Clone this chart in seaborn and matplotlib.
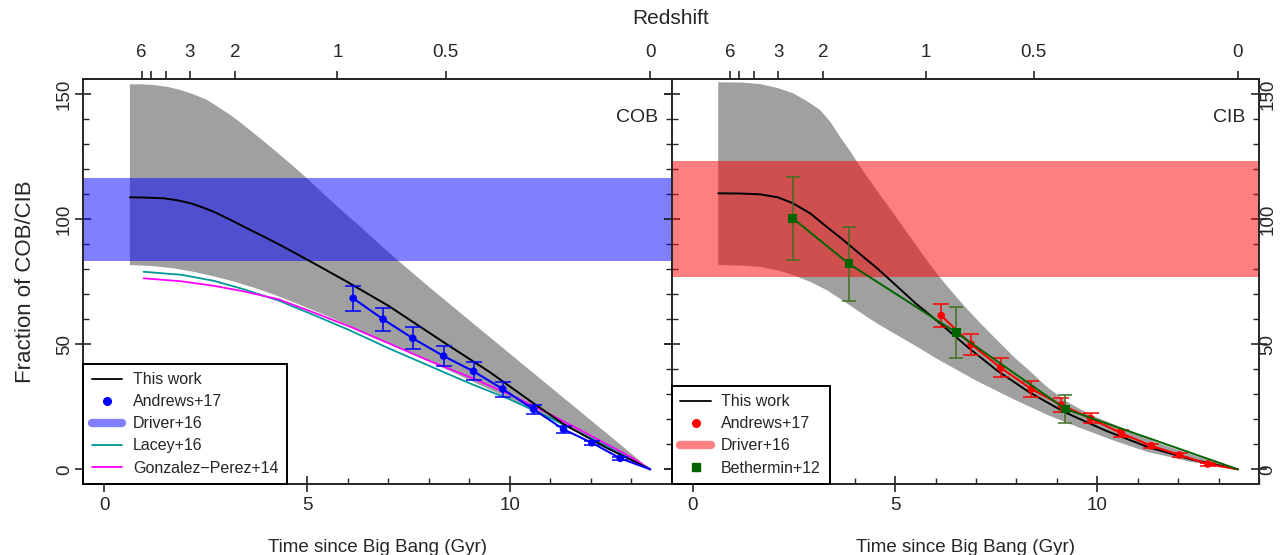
import numpy as np
import matplotlib
matplotlib.use('Agg')
import matplotlib.pyplot as plt
import seaborn as sns
from matplotlib.lines import Line2D
from matplotlib.ticker import MultipleLocator, NullLocator

# ---- data ----
T0 = 13.47

# COB panel
cob_band_up_t = [0.63, 0.9, 1.22, 1.55, 1.88, 2.2, 2.54, 2.8, 3.11, 3.4, 3.69, 4.0, 4.34, 4.67, 5.0,
                 5.33, 5.66, 6.0, 6.32, 6.81, 7.26, 8.08, 9.5, 11.0, 12.5, 13.47]
cob_band_up_y = [154, 154, 153.7, 153, 151.7, 150, 147.7, 145, 141.7, 138.2, 134.4, 130.3, 125.7, 121.1, 116.4,
                 111.4, 106.4, 101.5, 97, 89.7, 83.3, 72, 53, 33, 13, 0]
cob_band_lo_t = [0.63, 1.2, 1.7, 2.2, 2.7, 3.2, 3.7, 4.2, 4.7, 5.2, 5.7, 6.5, 7.5, 8.5, 9.5, 10.5, 11.5, 12.5, 13.47]
cob_band_lo_y = [81.7, 81.3, 80.4, 79.0, 77.2, 75.1, 72.6, 69.8, 66.6, 63.3, 59.9, 54.0, 47.0, 39.5, 32.0, 24.5,
                 16.5, 8.5, 0]

cob_this_t = [0.63, 1.0, 1.47, 1.8, 2.13, 2.4, 2.7, 3.1, 3.52, 3.93, 4.34, 4.75, 5.17, 5.58, 5.99, 7.0, 8.45,
              9.5, 10.59, 11.33, 12.4, 13.47]
cob_this_y = [108.8, 108.7, 108.4, 107.6, 106.4, 104.9, 103, 99.9, 96.4, 93.1, 89.7, 86.1, 82.4, 78.7, 75, 65.5,
              50, 39, 26.4, 18.1, 8.5, 0]

andrews_t = [6.14, 6.88, 7.61, 8.37, 9.11, 9.83, 10.59, 11.33, 12.03, 12.73]
cob_andrews_y = [68.4, 60.0, 52.4, 45.3, 39.2, 32.1, 24.0, 16.0, 10.6, 4.4]
cob_andrews_err = [4.9, 4.65, 4.4, 4.0, 3.6, 3.0, 1.8, 1.3, 0.9, 0.7]

cob_driver = (83.5, 116.6)

sam_t = [0.97, 1.9, 2.7, 3.4, 4.3, 5.2, 6.07, 7.0, 8.0, 9.0, 10.0, 11.0, 12.0, 13.0, 13.47]
lacey_y = [79, 77.8, 75.4, 72.2, 67.5, 61.5, 55.5, 48.5, 41.5, 34.5, 28, 20.5, 12.5, 4.2, 0]
gp_y = [76.4, 75.2, 73.4, 71.3, 68, 62.5, 57, 50.5, 43.5, 37, 30, 22, 13.5, 4.8, 0]

# CIB panel
cib_band_up_t = [0.63, 1.2, 1.66, 2.1, 2.48, 2.8, 3.15, 3.4, 3.64, 3.9, 4.14, 4.55, 4.96, 5.37, 5.78, 6.07,
                 6.37, 6.7, 7.11, 7.5, 7.93, 8.35, 8.75, 9.25, 9.8, 10.4, 11.5, 12.5, 13.47]
cib_band_up_y = [154.8, 154.7, 154.1, 152.5, 150.4, 147.5, 143.7, 139, 133, 127, 121, 111.5, 102.4, 93, 83.7,
                 77.5, 71.7, 65.5, 58.4, 52, 45, 39, 33, 27, 22, 18, 10.5, 5, 0]
cib_band_lo_t = [0.63, 1.2, 1.66, 2.1, 2.48, 2.9, 3.31, 3.8, 4.3, 4.64, 5.12, 5.6, 6.0, 6.5, 7.0, 7.93, 8.8,
                 9.58, 10.4, 11.23, 12.3, 13.47]
cib_band_lo_y = [81.7, 81.5, 81, 79.6, 77.7, 75, 71.7, 66.5, 61, 57.5, 53, 48.5, 44.5, 40, 35.5, 28, 21.5,
                 16.5, 11.5, 7, 3, 0]

cib_this_t = [0.63, 1.2, 1.66, 2.1, 2.48, 2.9, 3.31, 3.7, 4.14, 4.55, 4.96, 5.5, 6.11, 6.8, 7.52, 8.3, 9.17,
              10.2, 11.23, 12.3, 13.47]
cib_this_y = [110.4, 110.3, 110, 108.8, 106.4, 102.4, 97, 92, 86, 80.5, 74.5, 66.5, 58.4, 48.8, 39.5, 31, 23,
              15.5, 9, 4, 0]

cib_andrews_y = [61.5, 50.0, 40.6, 32.1, 25.7, 20.4, 14.4, 9.4, 5.7, 2.1]
cib_andrews_err = [4.65, 4.15, 3.8, 3.15, 2.9, 2.0, 1.3, 0.9, 0.7, 0.6]

beth_t = [2.47, 3.86, 6.51, 9.21]
beth_y = [100.4, 82.2, 54.7, 24.1]
beth_err = [16.6, 14.8, 10.2, 5.6]

cib_driver = (77.0, 123.3)

z_ticks = [6, 5, 4, 3, 2, 1, 0.5, 0]
z_labels = ['6', '', '', '3', '2', '1', '0.5', '0']


def age(z, h0=70.0, om=0.3):
    # flat LCDM age in Gyr, used only to place the redshift ticks
    ol = 1 - om
    th = 977.8 / h0
    return 2 * th / (3 * np.sqrt(ol)) * np.arcsinh(np.sqrt(ol / om) * (1 + np.asarray(z, float)) ** -1.5)


sns.set_style('ticks')
plt.rcParams['font.family'] = ['Liberation Sans', 'DejaVu Sans']
plt.rcParams['axes.linewidth'] = 1.4

fig = plt.figure(figsize=(12.87, 5.55), dpi=100)
W, H = 1287, 555
axL = fig.add_axes([83.3 / W, 1 - 484.3 / H, 588.4 / W, 405 / H])
axR = fig.add_axes([671.7 / W, 1 - 484.3 / H, 587.6 / W, 405 / H])

GRAY = '#a0a0a0'
FS = 13.5


def style_axis(ax, side):
    ax.set_xlim(-0.52, 14.0)
    ax.set_ylim(-6, 156)
    ax.xaxis.set_major_locator(MultipleLocator(5))
    ax.xaxis.set_minor_locator(MultipleLocator(1))
    ax.yaxis.set_major_locator(MultipleLocator(50))
    ax.yaxis.set_minor_locator(MultipleLocator(10))
    ax.tick_params(axis='both', which='major', direction='inout', length=12, width=1.2,
                   labelsize=FS, left=True, right=True, top=False)
    ax.tick_params(axis='both', which='minor', direction='in', length=4, width=1.0,
                   left=True, right=True, top=False)
    ax.tick_params(axis='y', labelleft=(side == 'left'), labelright=(side == 'right'),
                   pad=(1.5 if side == 'left' else -6))
    for lab in ax.get_yticklabels():
        lab.set_rotation(90)
        lab.set_va('center')
    ax.set_xlabel('Time since Big Bang (Gyr)', fontsize=13.5, labelpad=17.5)
    sec = ax.secondary_xaxis('top')
    sec.set_xticks(age(z_ticks), z_labels)
    sec.tick_params(direction='out', length=6, width=1.2, labelsize=FS, pad=7)
    sec.xaxis.set_minor_locator(NullLocator())


def add_legend(ax, handles, labels):
    leg = ax.legend(handles, labels, loc='lower left', bbox_to_anchor=(0, 0), borderaxespad=0,
                    fontsize=11.5, fancybox=False, framealpha=1, edgecolor='black',
                    handlelength=1.9, handletextpad=0.65, labelspacing=0.44, borderpad=0.55)
    leg.get_frame().set_linewidth(1.4)
    leg.set_zorder(10)


# ---- COB panel ----
ax = axL
ax.fill(np.concatenate([cob_band_up_t, cob_band_lo_t[::-1]]),
        np.concatenate([cob_band_up_y, cob_band_lo_y[::-1]]), color=GRAY, lw=0, zorder=1)
ax.axhspan(*cob_driver, color='#0000ff', alpha=0.5, lw=0, zorder=2)
sns.lineplot(x=sam_t, y=lacey_y, ax=ax, color='#009999', lw=1.3, sort=False, estimator=None, zorder=3)
sns.lineplot(x=sam_t, y=gp_y, ax=ax, color='#ff00ff', lw=1.3, sort=False, estimator=None, zorder=3)
sns.lineplot(x=cob_this_t, y=cob_this_y, ax=ax, color='black', lw=1.4, sort=False, estimator=None, zorder=4)
sns.lineplot(x=andrews_t + [T0], y=cob_andrews_y + [0], ax=ax, color='#0000ff', lw=1.5,
             sort=False, estimator=None, zorder=5)
ax.errorbar(andrews_t, cob_andrews_y, yerr=cob_andrews_err, fmt='none', ecolor='#0000ff',
            elinewidth=1.1, capsize=5.5, capthick=1.1, zorder=5)
sns.scatterplot(x=andrews_t, y=cob_andrews_y, ax=ax, color='#0000ff', s=30, edgecolor='none', zorder=6)
ax.text(13.66, 140.9, 'COB', ha='right', va='center', fontsize=14)
ax.set_ylabel('Fraction of COB/CIB', fontsize=16, labelpad=14)
style_axis(ax, 'left')

add_legend(ax,
           [Line2D([], [], color='black', lw=1.3),
            Line2D([], [], color='#0000ff', marker='o', ls='none', ms=5.5),
            Line2D([], [], color='#8080ff', lw=6, solid_capstyle='round'),
            Line2D([], [], color='#009999', lw=1.3),
            Line2D([], [], color='#ff00ff', lw=1.3)],
           ['This work', 'Andrews+17', 'Driver+16', 'Lacey+16', 'Gonzalez\u2212Perez+14'])

# ---- CIB panel ----
ax = axR
ax.fill(np.concatenate([cib_band_up_t, cib_band_lo_t[::-1]]),
        np.concatenate([cib_band_up_y, cib_band_lo_y[::-1]]), color=GRAY, lw=0, zorder=1)
ax.axhspan(*cib_driver, color='#ff0000', alpha=0.5, lw=0, zorder=2)
sns.lineplot(x=cib_this_t, y=cib_this_y, ax=ax, color='black', lw=1.4, sort=False, estimator=None, zorder=4)
sns.lineplot(x=andrews_t + [T0], y=cib_andrews_y + [0], ax=ax, color='#ff0000', lw=1.5,
             sort=False, estimator=None, zorder=5)
ax.errorbar(andrews_t, cib_andrews_y, yerr=cib_andrews_err, fmt='none', ecolor='#ff0000',
            elinewidth=1.1, capsize=5.5, capthick=1.1, zorder=5)
sns.scatterplot(x=andrews_t, y=cib_andrews_y, ax=ax, color='#ff0000', s=30, edgecolor='none', zorder=6)
sns.lineplot(x=beth_t + [T0], y=beth_y + [0], ax=ax, color='#006400', lw=1.4,
             sort=False, estimator=None, zorder=6)
ax.errorbar(beth_t, beth_y, yerr=beth_err, fmt='none', ecolor='#3f6f1f',
            elinewidth=1.1, capsize=5, capthick=1.1, zorder=6)
sns.scatterplot(x=beth_t, y=beth_y, ax=ax, color='#006400', marker='s', s=40, edgecolor='none', zorder=7)
ax.text(13.66, 140.9, 'CIB', ha='right', va='center', fontsize=14)
ax.set_ylabel('')
style_axis(ax, 'right')

add_legend(ax,
           [Line2D([], [], color='black', lw=1.3),
            Line2D([], [], color='#ff0000', marker='o', ls='none', ms=5.5),
            Line2D([], [], color='#ff8080', lw=6, solid_capstyle='round'),
            Line2D([], [], color='#006400', marker='s', ls='none', ms=6)],
           ['This work', 'Andrews+17', 'Driver+16', 'Bethermin+12'])

fig.text(671 / W, 1 - 18 / H, 'Redshift', ha='center', va='center', fontsize=15)

fig.savefig('out.png', dpi=100)
